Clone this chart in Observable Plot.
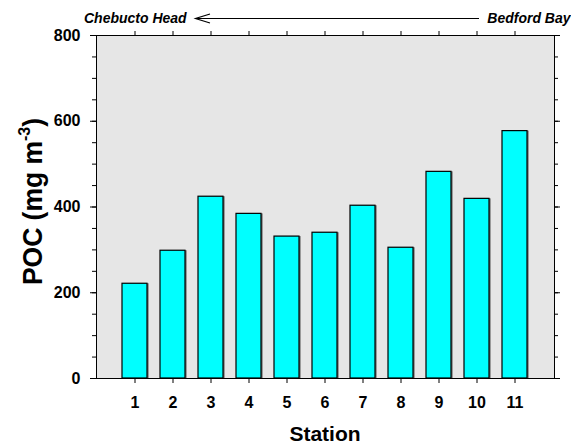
<!DOCTYPE html>
<html>
<head>
<meta charset="utf-8">
<script src="https://cdn.jsdelivr.net/npm/d3@7"></script>
<script src="https://cdn.jsdelivr.net/npm/@observablehq/plot@0.6"></script>
<style>
  html, body { margin: 0; padding: 0; background: #ffffff; }
  #chart svg { display: block; }
</style>
</head>
<body>
<div id="chart"></div>
<script>
// Particulate organic carbon along the transect, Chebucto Head -> Bedford Bay
const stations = [1, 2, 3, 4, 5, 6, 7, 8, 9, 10, 11];
const poc = [221, 298, 424, 384, 331, 340, 403, 305, 482, 419, 577];
const yMajorTicks = [0, 200, 400, 600, 800];
const yMinorTicks = d3.range(0, 801, 50);

const data = stations.map((s, i) => ({station: s, poc: poc[i]}));

const font = "'Liberation Sans', Arial, Helvetica, sans-serif";

const chart = Plot.plot({
  width: 571,
  height: 445,
  marginLeft: 96,
  marginRight: 17,
  marginTop: 35,
  marginBottom: 67,
  style: {fontFamily: font, fontWeight: "bold", background: "#ffffff", overflow: "visible"},
  x: {type: "band", domain: stations, paddingInner: 0.34, paddingOuter: 0.56},
  y: {domain: [0, 800]},
  marks: [
    Plot.frame({fill: "#e6e6e6", stroke: null}),
    // soft drop shadow behind each bar
    Plot.barY(data, {x: "station", y: "poc", fill: "#6a6a6a", dx: 1.6, dy: 0}),
    Plot.barY(data, {x: "station", y: "poc", fill: "#00ffff", stroke: "#000000", strokeWidth: 1.2}),
    // left axis: labelled majors and minor ticks
    Plot.axisY({ticks: yMajorTicks, tickSize: 6, tickPadding: 10, fontSize: 16, fontWeight: "bold", label: null, stroke: "#000"}),
    Plot.axisY({ticks: yMinorTicks, tickSize: 4, text: null, label: null}),
    // right axis: ticks only
    Plot.axisY({anchor: "right", ticks: yMajorTicks, tickSize: 5, text: null, label: null}),
    Plot.axisY({anchor: "right", ticks: yMinorTicks, tickSize: 3, text: null, label: null}),
    // station axes
    Plot.axisX({anchor: "bottom", tickSize: 5, tickPadding: 13, fontSize: 16, fontWeight: "bold", label: null}),
    Plot.axisX({anchor: "top", tickSize: 5, text: null, label: null}),
    Plot.frame({stroke: "#000000", strokeWidth: 1})
  ]
});

document.getElementById("chart").appendChild(chart);

const svg = d3.select(chart);

// y-axis title with superscript exponent
const yTitle = svg.append("text")
  .attr("transform", "translate(42,201.5) rotate(-90) scale(0.945,1)")
  .attr("text-anchor", "middle")
  .style("font-family", font)
  .style("font-weight", "bold")
  .style("font-size", "28px")
  .attr("fill", "#000");
yTitle.append("tspan").text("POC (mg m");
yTitle.append("tspan").attr("dy", -12).style("font-size", "17px").text("-3");
yTitle.append("tspan").attr("dy", 12).text(")");

// x-axis title
svg.append("text")
  .attr("x", (96 + 554) / 2)
  .attr("y", 441)
  .attr("text-anchor", "middle")
  .style("font-family", font)
  .style("font-weight", "bold")
  .style("font-size", "21px")
  .attr("fill", "#000")
  .text("Station");

// transect direction annotation
svg.append("text")
  .attr("x", 84)
  .attr("y", 23)
  .attr("text-anchor", "start")
  .style("font-family", font)
  .style("font-weight", "bold")
  .style("font-style", "italic")
  .style("font-size", "14px")
  .attr("fill", "#000")
  .text("Chebucto Head");

svg.append("text")
  .attr("x", 570.5)
  .attr("y", 23)
  .attr("text-anchor", "end")
  .style("font-family", font)
  .style("font-weight", "bold")
  .style("font-style", "italic")
  .style("font-size", "14px")
  .attr("fill", "#000")
  .text("Bedford Bay");

svg.append("path")
  .attr("d", "M479,18.5H195.5M210,14L195.5,18.5L210,23")
  .attr("fill", "none")
  .attr("stroke", "#000")
  .attr("stroke-width", 1.2);
</script>
</body>
</html>
